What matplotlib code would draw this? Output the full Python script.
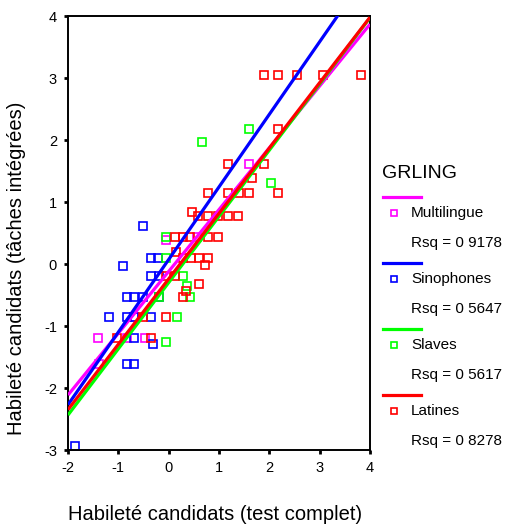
import numpy as np
import matplotlib
matplotlib.use("Agg")
import matplotlib.pyplot as plt
from matplotlib.lines import Line2D

plt.rcParams['font.family'] = ['Liberation Sans', 'DejaVu Sans']
plt.rcParams['axes.unicode_minus'] = False

groups = ["Multilingue", "Sinophones", "Slaves", "Latines"]
colors = ["#FF00FF", "#0000FF", "#00FF00", "#FF0000"]
rsq_labels = ["Rsq = 0 9178", "Rsq = 0 5647", "Rsq = 0 5617", "Rsq = 0 8278"]

multi_x = [1.60, -0.06, 0.57, -1.40, -0.83, -0.48, -1.38, -0.68]
multi_y = [1.61, 0.38, 0.43, -1.19, -1.19, -1.19, -1.61, -0.85]

sino_x = [-0.51, -0.35, -0.22, -0.91, -0.35, -0.20, -0.83, -0.68, -0.51, -0.20,
          -1.19, -0.83, -0.68, -0.35, -0.68, -0.31, -0.83, -0.68, -1.86]
sino_y = [0.61, 0.10, 0.10, -0.03, -0.20, -0.20, -0.53, -0.53, -0.53, -0.53,
          -0.85, -0.85, -0.85, -0.85, -1.19, -1.29, -1.61, -1.61, -2.94]

slav_x = [1.60, 0.66, 2.03, -0.06, -0.05, 0.29, 0.37, 0.43, -0.20, 0.17, -0.05]
slav_y = [2.17, 1.96, 1.31, 0.43, 0.10, -0.20, -0.36, -0.53, -0.53, -0.85, -1.26]

lat_x = [1.90, 2.17, 2.54, 3.06, 3.83, 2.17,
         1.17, 1.89, 1.66,
         0.78, 1.17, 1.39, 1.60, 2.17,
         0.46, 0.58, 0.78, 0.99, 1.17, 1.38,
         0.12, 0.28, 0.43, 0.78, 0.98,
         0.14,
         0.28, 0.44, 0.60, 0.78,
         0.72,
         -0.05, 0.13,
         0.61, 0.34, 0.29,
         -0.51, -0.05,
         -1.02, -0.35]
lat_y = [3.05, 3.05, 3.05, 3.05, 3.05, 2.17,
         1.61, 1.61, 1.38,
         1.15, 1.15, 1.15, 1.15, 1.15,
         0.84, 0.77, 0.77, 0.77, 0.77, 0.77,
         0.43, 0.43, 0.43, 0.43, 0.43,
         0.20,
         0.10, 0.10, 0.10, 0.10,
         -0.02,
         -0.20, -0.20,
         -0.32, -0.43, -0.53,
         -0.85, -0.85,
         -1.19, -1.19]

# fitted lines (slope, intercept)
slopes = [0.997, 1.171, 1.068, 1.055]
intercepts = [-0.12, 0.072, -0.30, -0.24]

xs = [multi_x, sino_x, slav_x, lat_x]
ys = [multi_y, sino_y, slav_y, lat_y]

W, H = 507, 525
fig = plt.figure(figsize=(W / 100, H / 100), dpi=100)
ax = fig.add_axes([68 / W, 1 - 450 / H, (370 - 68) / W, (450 - 16) / H])

for x, y, c in zip(xs, ys, colors):
    ax.plot(x, y, ls='none', marker='s', ms=5.2, mfc='none', mec=c, mew=1.2, zorder=2)

xline = np.array([-2.0, 4.0])
for s, b, c in zip(slopes, intercepts, colors):
    ax.plot(xline, s * xline + b, color=c, lw=2.3, zorder=3, solid_capstyle='butt')

ax.set_xlim(-2, 4)
ax.set_ylim(-3, 4)
ax.set_xticks(range(-2, 5))
ax.set_yticks(range(-3, 5))
ax.tick_params(direction='out', length=3, width=2, labelsize=10.5, color='black')
ax.tick_params(axis='x', pad=5)
ax.tick_params(axis='y', pad=5)
for sp in ax.spines.values():
    sp.set_linewidth(1.4)
    sp.set_color('black')

fig.text(215 / W, 1 - 515 / H, "Habileté candidats (test complet)", ha='center', va='center', fontsize=14.5)
fig.text(17 / W, 1 - 268 / H, "Habileté candidats (tâches intégrées)", ha='center', va='center',
         rotation=90, fontsize=14.5)

# legend
fig.text(382 / W, 1 - 173 / H, "GRLING", ha='left', va='center', fontsize=14)
for i, (g, c, r) in enumerate(zip(groups, colors, rsq_labels)):
    y0 = 197 + 66 * i
    fig.add_artist(Line2D([383 / W, 421 / W], [1 - y0 / H, 1 - y0 / H], color=c, lw=2.3,
                          transform=fig.transFigure))
    fig.add_artist(Line2D([394 / W], [1 - (y0 + 16) / H], ls='none', marker='s', ms=4.5,
                          mfc='none', mec=c, mew=1.2, transform=fig.transFigure))
    fig.text(411 / W, 1 - (y0 + 16) / H, g, ha='left', va='center', fontsize=11)
    fig.text(411 / W, 1 - (y0 + 46.5) / H, r, ha='left', va='center', fontsize=11)

fig.savefig("out.png", dpi=100)
